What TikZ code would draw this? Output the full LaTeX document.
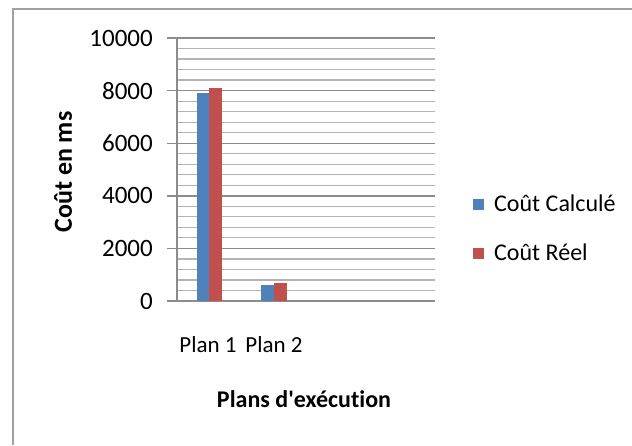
\documentclass[tikz,border=0pt]{standalone}
\usepackage{fontspec}
\setmainfont{Carlito}[Ligatures=NoCommon]
\usetikzlibrary{positioning}
\definecolor{calcblue}{HTML}{4F81BD}
\definecolor{reelred}{HTML}{C0504D}
\definecolor{gridgray}{HTML}{B4B4B4}
\definecolor{majgray}{HTML}{8C8C8C}
\definecolor{framegray}{HTML}{A0A0A0}

\begin{document}
\begin{tikzpicture}[x=1pt, y=-1pt,
        tick/.style={anchor=east, inner sep=0, font=\fontsize{25}{28}\selectfont},
        axtitle/.style={inner sep=0, font=\bfseries\fontsize{24}{28}\selectfont},
        catlbl/.style={anchor=base, inner sep=0, font=\fontsize{23}{26}\selectfont},
        legtext/.style={anchor=base west, inner sep=0, font=\fontsize{24}{28}\selectfont},
        legkey/.style={draw=none, minimum size=11.5pt, inner sep=0}
    ]
    \useasboundingbox (0,0) rectangle (632,445);
    % cadre
    \draw[framegray, line width=2pt] (13,445) -- (13,9) -- (632,9);

    % grille secondaire
    \foreach \k in {1,...,24} {
        \pgfmathsetmacro{\yy}{301-\k*10.52}
        \draw[gridgray, line width=1.2pt] (177,\yy) -- (435,\yy);
    }
    % grille principale et graduations
    \foreach \k/\val in {0/0, 1/2000, 2/4000, 3/6000, 4/8000, 5/10000} {
        \pgfmathsetmacro{\yy}{301-\k*52.6}
        \draw[majgray, line width=1.4pt] (167,\yy) -- (435,\yy);
        \node[tick] (t\k) at (153,\yy) {\val};
    }
    \draw[majgray, line width=1.4pt] (177,38) -- (177,301);

    % barres
    \fill[calcblue] (197,301) rectangle (209,{301-7900*0.0263});
    \fill[reelred]  (209,301) rectangle (222,{301-8100*0.0263});
    \fill[calcblue] (261,301) rectangle (274,{301-600*0.0263});
    \fill[reelred]  (274,301) rectangle (287,{301-700*0.0263});

    % etiquettes
    \node[catlbl] (p1) at (208,352) {Plan 1};
    \node[catlbl] (p2) at (274,352) {Plan 2};
    \node[axtitle, anchor=base] (xtitle) at (304,407) {Plans d\textquotesingle exécution};
    \node[axtitle, rotate=90, font=\bfseries\fontsize{26}{28}\selectfont] (ytitle) at (63,172) {Coût en ms};

    % legende
    \node[legkey, fill=calcblue] (kcalc) at (478.5,204.5) {};
    \node[legkey, fill=reelred] (kreel) at (478.5,253.5) {};
    \node[legtext] (lcalc) at (494,211) {Coût Calculé};
    \node[legtext] (lreel) at (494,260) {Coût Réel};
\end{tikzpicture}
\end{document}
